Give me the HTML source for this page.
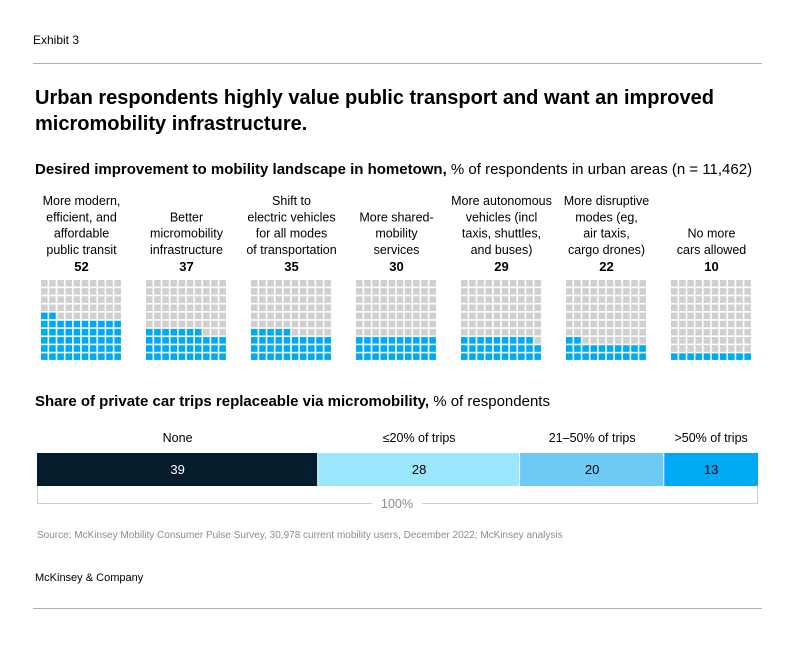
<!DOCTYPE html>
<html><head><meta charset="utf-8"><style>
body{margin:0;background:#fff;font-family:"Liberation Sans",Arial,sans-serif;color:#000;}
#root{position:relative;width:793px;height:650px;overflow:hidden;}
.t{position:absolute;white-space:nowrap;}
.hr{position:absolute;left:33px;width:729px;height:1px;background:#b3b3b3;}
</style></head><body>
<div id="root">
<div class="t" style="left:33px;top:33px;font-size:12px">Exhibit 3</div>
<div class="hr" style="top:63px"></div>
<div class="t" style="left:35px;top:85px;font-size:20px;font-weight:bold;line-height:26px">Urban respondents highly value public transport and want an improved<br>micromobility infrastructure.</div>
<div class="t" style="left:35px;top:161px;font-size:15px"><b>Desired improvement to mobility landscape in hometown,</b> % of respondents in urban areas (n = 11,462)</div>
<svg id="chart" width="793" height="650" style="position:absolute;left:0;top:0"></svg>
<div class="t" style="left:35px;top:393px;font-size:15px"><b>Share of private car trips replaceable via micromobility,</b> % of respondents</div>
<div class="t" style="left:37px;top:530px;font-size:10px;color:#8c8c8c">Source: McKinsey Mobility Consumer Pulse Survey, 30,978 current mobility users, December 2022; McKinsey analysis</div>
<div class="t" style="left:35px;top:572px;font-size:11px">McKinsey &amp; Company</div>
<div class="hr" style="top:608px"></div>
</div>
<script>
const waffleLabels=[["More modern,","efficient, and","affordable","public transit"],["Better","micromobility","infrastructure"],["Shift to","electric vehicles","for all modes","of transportation"],["More shared-","mobility","services"],["More autonomous","vehicles (incl","taxis, shuttles,","and buses)"],["More disruptive","modes (eg,","air taxis,","cargo drones)"],["No more","cars allowed"]];
const waffleValues=[52,37,35,30,29,22,10];
const barCategories=["None","≤20% of trips","21–50% of trips",">50% of trips"];
const barValues=[39,28,20,13];
const barColors=["#051c2c","#99e6fd","#6ccaf5","#00a9f4"];
const barTextColors=["#fff","#000","#000","#000"];

const NS="http://www.w3.org/2000/svg";
const svg=document.getElementById('chart');
function mk(tag,attrs,parent){const e=document.createElementNS(NS,tag);for(const k in attrs)e.setAttribute(k,attrs[k]);(parent||svg).appendChild(e);return e;}

// Waffles
const gx0=41,gStep=105,gy0=280,pitch=8.15,cell=6.6;
waffleValues.forEach((v,i)=>{
  const g=mk('g',{});
  
  
  const x0=gx0+i*gStep;
  for(let k=0;k<100;k++){
    const row=9-Math.floor(k/10),col=k%10;
    const r=mk('rect',{x:x0+col*pitch,y:gy0+row*pitch,width:cell,height:cell,fill:k<v?'#00a9f4':'#d0d0d0'},g);
    
    
  }
  const cx=x0+40.5;
  const lines=waffleLabels[i];
  lines.forEach((ln,j)=>{
    const t=mk('text',{x:cx,y:254-(lines.length-1-j)*16.3,'text-anchor':'middle','font-size':'12.5'});
    t.textContent=ln;
    
    
  });
  const n=mk('text',{x:cx,y:271,'text-anchor':'middle','font-size':'13','font-weight':'bold'});
  n.textContent=v;
  
  
});

// Stacked bar
const bx0=37,bw=721,by=453,bh=33;
const total=barValues.reduce((a,b)=>a+b,0);
const xs=v=>v/total*bw;
let acc=0;
barValues.forEach((v,i)=>{
  const x=bx0+xs(acc),w=xs(v);
  const r=mk('rect',{x:x,y:by,width:w-(i<barValues.length-1?1:0),height:bh,fill:barColors[i]});
  
  
  const t=mk('text',{x:x+w/2,y:by+21,'text-anchor':'middle','font-size':'13',fill:barTextColors[i]});
  t.textContent=v;
  
  
  const c=mk('text',{x:x+w/2,y:442,'text-anchor':'middle','font-size':'12.5'});
  c.textContent=barCategories[i];
  
  
  acc+=v;
});
const br=mk('path',{d:`M${bx0+0.5},${by+bh} V503.5 H372 M422,503.5 H${bx0+bw-0.5} V${by+bh}`,fill:'none',stroke:'#cfcfcf','stroke-width':1});


const tt=mk('text',{x:397,y:508,'text-anchor':'middle','font-size':'12.5',fill:'#8c8c8c'});
tt.textContent='100%';


</script>
</body></html>
